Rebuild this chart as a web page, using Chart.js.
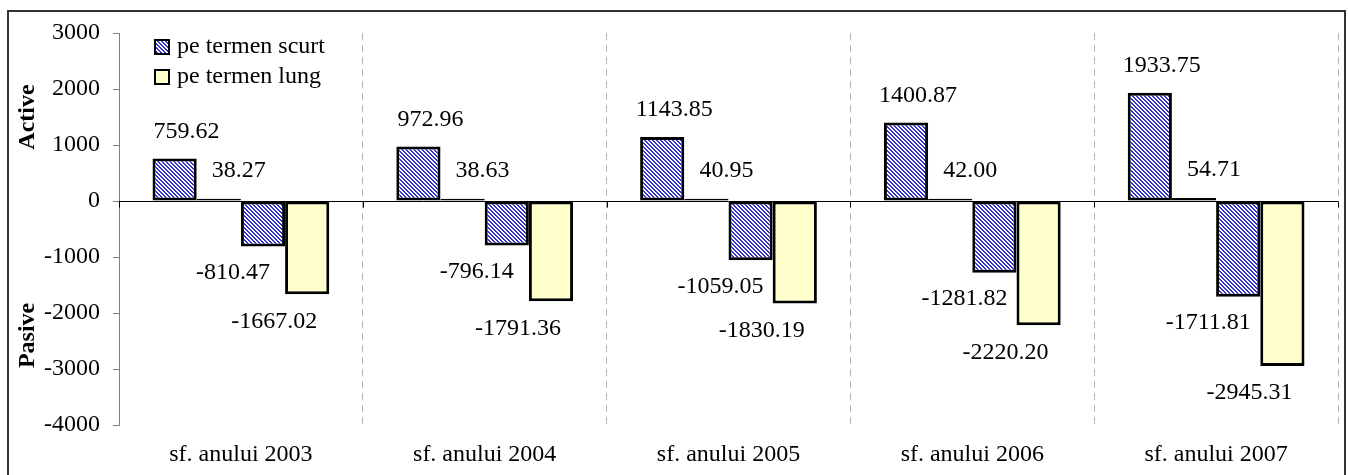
<!DOCTYPE html>
<html>
<head>
<meta charset="utf-8">
<script src="https://cdn.jsdelivr.net/npm/chart.js@4/dist/chart.umd.min.js"></script>
<style>
  html, body { margin: 0; padding: 0; background: #fff; }
  #wrap { width: 1348px; height: 475px; }
</style>
</head>
<body>
<div id="wrap"><canvas id="chart" width="1348" height="475"></canvas></div>
<script>
const categories = ["sf. anului 2003", "sf. anului 2004", "sf. anului 2005", "sf. anului 2006", "sf. anului 2007"];
const activeShort = [759.62, 972.96, 1143.85, 1400.87, 1933.75];
const activeLong = [38.27, 38.63, 40.95, 42.00, 54.71];
const passiveShort = [-810.47, -796.14, -1059.05, -1281.82, -1711.81];
const passiveLong = [-1667.02, -1791.36, -1830.19, -2220.20, -2945.31];
const legendLabels = ["pe termen scurt", "pe termen lung"];
const yTicks = { min: -4000, max: 3000, step: 1000 };

const FONT = "'Liberation Serif', 'Times New Roman', serif";
const FSIZE = 24;
const YELLOW = "#ffffcc";

function makeHatch(ctx) {
  const c = document.createElement("canvas");
  c.width = 4;
  c.height = 4;
  const g = c.getContext("2d");
  g.fillStyle = "#ffffff";
  g.fillRect(0, 0, 4, 4);
  g.fillStyle = "#3333cc";
  for (let y = 0; y < 4; y++) {
    for (let x = 0; x < 4; x++) {
      if ((x - y + 8) % 4 < 2) g.fillRect(x, y, 1, 1);
    }
  }
  return ctx.createPattern(c, "repeat");
}

const canvas = document.getElementById("chart");
const ctx = canvas.getContext("2d");
const hatch = makeHatch(ctx);

// zero line, boundary ticks, value labels, legend, side titles and frame
const extras = {
  id: "extras",
  beforeDatasetsDraw(chart) {
    const { ctx, chartArea } = chart;
    const y = chart.scales.y;
    const x = chart.scales.x;
    const y0 = Math.round(y.getPixelForValue(0)) + 0.5;
    ctx.save();
    ctx.strokeStyle = "#000";
    ctx.lineWidth = 1;
    ctx.beginPath();
    ctx.moveTo(chartArea.left, y0);
    ctx.lineTo(chartArea.right, y0);
    const n = categories.length;
    for (let i = 0; i <= n; i++) {
      const xb = Math.round(x.left + (i * x.width) / n) + 0.5;
      ctx.moveTo(xb, y0);
      ctx.lineTo(xb, y0 + 6);
    }
    ctx.stroke();
    ctx.restore();
  },
  afterDatasetsDraw(chart, args, opts) {
    const { ctx, chartArea } = chart;
    ctx.save();
    ctx.font = FSIZE + "px " + FONT;
    ctx.fillStyle = "#000";
    ctx.textAlign = "center";
    ctx.textBaseline = "middle";
    chart.data.datasets.forEach((ds, di) => {
      const meta = chart.getDatasetMeta(di);
      const shift = opts.shifts[di];
      meta.data.forEach((bar, i) => {
        const v = ds.data[i];
        ctx.fillText(v.toFixed(2), bar.x + shift[0], bar.y + shift[1]);
      });
    });

    // legend
    const lx = chartArea.left + 36;
    const rows = [hatch, YELLOW];
    rows.forEach((fill, i) => {
      const cy = chartArea.top + 14 + i * 30;
      ctx.fillStyle = fill;
      ctx.fillRect(lx, cy - 7, 14, 14);
      ctx.strokeStyle = "#000";
      ctx.lineWidth = 2;
      ctx.strokeRect(lx, cy - 7, 14, 14);
      ctx.fillStyle = "#000";
      ctx.font = FSIZE + "px " + FONT;
      ctx.textAlign = "left";
      ctx.fillText(legendLabels[i], lx + 22, cy);
    });

    // side titles
    const ys = chart.scales.y;
    ctx.font = "bold " + FSIZE + "px " + FONT;
    ctx.textAlign = "center";
    [["Active", 1500], ["Pasive", -2400]].forEach(([t, v]) => {
      ctx.save();
      ctx.translate(28, ys.getPixelForValue(v));
      ctx.rotate(-Math.PI / 2);
      ctx.fillText(t, 0, 0);
      ctx.restore();
    });

    ctx.restore();
  },
  afterDraw(chart) {
    const { ctx } = chart;
    ctx.save();
    ctx.strokeStyle = "#333";
    ctx.lineWidth = 2;
    ctx.strokeRect(8, 11, 1337, 480);
    ctx.restore();
  }
};

const barStyle = {
  borderColor: "#000",
  borderWidth: 3,
  borderSkipped: false,
  categoryPercentage: 0.725,
  barPercentage: 1
};

new Chart(ctx, {
  type: "bar",
  data: {
    labels: categories,
    datasets: [
      { label: legendLabels[0], data: activeShort, backgroundColor: hatch, ...barStyle },
      { label: legendLabels[1], data: activeLong, backgroundColor: YELLOW, ...barStyle },
      { label: legendLabels[0], data: passiveShort, backgroundColor: hatch, ...barStyle },
      { label: legendLabels[1], data: passiveLong, backgroundColor: YELLOW, ...barStyle }
    ]
  },
  options: {
    responsive: false,
    animation: false,
    layout: { padding: { top: 33, right: 10, left: 0, bottom: 0 } },
    plugins: {
      legend: { display: false },
      tooltip: { enabled: false },
      extras: { shifts: [[12, -27], [20, -28], [-30, 26], [-33, 27]] }
    },
    scales: {
      x: {
        grid: { color: "#b4b4b4", lineWidth: 1, drawTicks: false, offset: true },
        border: { display: false, dash: [7, 5] },
        ticks: { color: "#000", font: { family: FONT, size: FSIZE }, padding: 15, maxRotation: 0 },
        afterFit(scale) { scale.height = 50; }
      },
      y: {
        min: yTicks.min,
        max: yTicks.max,
        grid: { drawOnChartArea: false, drawTicks: true, tickLength: 6, tickColor: "#808080" },
        border: { display: true, color: "#808080", width: 1 },
        ticks: {
          stepSize: yTicks.step,
          color: "#000",
          font: { family: FONT, size: FSIZE },
          padding: 13,
          callback: (v) => String(v)
        },
        afterFit(scale) { scale.width = 119; }
      }
    }
  },
  plugins: [extras]
});
</script>
</body>
</html>
